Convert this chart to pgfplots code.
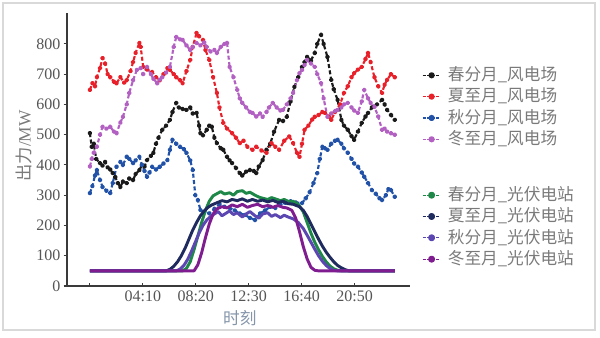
\documentclass[border=0pt]{standalone}
\usepackage{fontspec}
\usepackage{pgfplots}
\pgfplotsset{compat=1.18}
\setmainfont{Liberation Serif}
\newfontfamily\cjk{Noto Sans CJK SC}
\definecolor{wblack}{HTML}{1A1A1A}
\definecolor{wred}{HTML}{E8202A}
\definecolor{wblue}{HTML}{2152A8}
\definecolor{wpurple}{HTML}{B260C2}
\definecolor{pgreen}{HTML}{1E8848}
\definecolor{pnavy}{HTML}{1F2A5E}
\definecolor{pviolet}{HTML}{5B46B2}
\definecolor{pmag}{HTML}{7E1C90}
\definecolor{framegray}{HTML}{D9D9D9}
\definecolor{axisgray}{HTML}{3A3A3A}
\definecolor{tickgray}{HTML}{555555}
\definecolor{legendgray}{HTML}{7A7A7A}
\definecolor{xlabgray}{HTML}{8595AA}
\pgfplotsset{
  myaxis/.style={
    scale only axis, width=257.25pt, height=204.75pt,
    at={(50.25pt,38.25pt)}, anchor=south west,
    xmin=-1.8, xmax=25.2, ymin=0, ymax=902,
  },
  mylegend/.style={
    legend style={draw=none, fill=none, inner sep=0pt, outer sep=0pt,
      font=\cjk\fontsize{12.5}{14}\selectfont, text=legendgray,
      cells={anchor=west}, row sep=2pt, column sep=5pt,
      nodes={inner sep=0pt, text height=11pt, text depth=3pt},
      anchor=north west},
    legend image code/.code={
      \draw[##1, mark=none, line width=0.9pt, dash pattern=on 2.2pt off 1.2pt] (0pt,0pt) -- (13.5pt,0pt);
      \fill[##1, solid] (6.75pt,0pt) circle (1.5pt);
    },
  },
  wind/.style={line width=1.6pt, dash pattern=on 3pt off 1.8pt, line cap=butt, line join=round,
    mark=*, mark size=1.0pt, mark options={solid}},
  pv/.style={line width=2.2pt, line join=round},
}
\begin{document}
\begin{tikzpicture}[x=1pt,y=1pt]
\useasboundingbox (0,0) rectangle (450,252.75);
\draw[color=framegray, line width=0.8pt] (2.25,5.25) rectangle (446.25,250.5);
\begin{axis}[myaxis, mylegend,
  axis x line*=bottom, axis y line*=left,
  axis line style={-, line width=1.1pt, color=axisgray},
  xtick={0,4.16667,8.33333,12.5,16.66667,20.83333},
  xticklabels={,04:10,08:20,12:30,16:40,20:50},
  ytick={0,100,...,800},
  xtick align=inside, ytick align=outside,
  major tick length=2.5pt,
  tick style={color=axisgray, line width=0.8pt},
  tick label style={font=\fontsize{12}{12}\selectfont, color=tickgray, /pgf/number format/assume math mode=true},
  yticklabel style={xshift=1pt},
  xlabel={\cjk 时刻},
  xlabel style={at={(axis description cs:0.504,-0.117)}, anchor=center, font=\fontsize{12.5}{14}\selectfont, color=xlabgray},
  ylabel={{\cjk 出力}/MW},
  ylabel style={at={(axis description cs:-0.125,0.513)}, anchor=center, font=\fontsize{13}{14}\selectfont, color=legendgray},
  legend style={at={(axis description cs:1.035,0.806)}},
]
\addplot[wind, color=wblack] coordinates {
(0.0,505)(0.15,460)(0.3,470)(0.5,420)(0.8,406)(1.0,398)(1.2,410)(1.4,392)(1.6,385)(1.8,373)
(2.0,360)(2.2,340)(2.4,327)(2.6,345)(2.9,340)(3.1,355)(3.4,350)(3.6,370)(3.9,383)(4.1,400)
(4.3,395)(4.5,416)(4.8,430)(5.0,440)(5.2,470)(5.4,490)(5.7,516)(6.0,530)(6.3,549)(6.5,575)
(6.8,605)(7.0,590)(7.3,585)(7.6,582)(7.9,590)(8.1,570)(8.4,572)(8.6,530)(8.7,505)(8.9,498)
(9.2,516)(9.4,530)(9.6,526)(9.8,490)(10.0,472)(10.3,455)(10.5,450)(10.8,427)(11.0,415)(11.2,406)
(11.5,390)(11.8,373)(12.0,365)(12.3,378)(12.6,383)(12.9,380)(13.1,373)(13.3,395)(13.6,416)(13.9,450)
(14.2,470)(14.5,510)(14.9,549)(15.2,545)(15.5,559)(15.8,610)(16.1,658)(16.4,690)(16.7,724)(16.9,740)
(17.1,757)(17.4,745)(17.7,770)(17.9,800)(18.2,830)(18.4,800)(18.7,757)(19.0,681)(19.2,650)(19.5,615)
(19.8,549)(20.0,530)(20.3,516)(20.6,495)(20.8,483)(21.1,510)(21.4,539)(21.7,560)(21.9,572)(22.2,590)
(22.6,600)(23.0,615)(23.2,600)(23.4,582)(23.7,565)(24.0,549)};
\addlegendentry{春分月\_风电场}
\addplot[wind, color=wred] coordinates {
(0.0,648)(0.2,670)(0.4,660)(0.55,690)(0.8,720)(1.0,753)(1.2,735)(1.4,700)(1.6,690)(1.9,675)
(2.1,670)(2.4,690)(2.7,672)(2.9,680)(3.2,710)(3.4,740)(3.6,770)(3.9,803)(4.0,790)(4.2,724)
(4.5,715)(4.9,707)(5.2,690)(5.5,680)(5.8,700)(6.1,720)(6.3,714)(6.6,700)(6.8,690)(7.1,680)
(7.3,670)(7.6,710)(7.9,747)(8.1,790)(8.4,836)(8.6,825)(8.9,813)(9.1,780)(9.4,747)(9.7,690)
(10.0,638)(10.2,590)(10.5,539)(10.8,520)(11.2,505)(11.5,490)(11.8,472)(12.1,480)(12.4,460)(12.8,450)
(13.1,460)(13.5,448)(13.9,440)(14.3,472)(14.6,460)(14.9,450)(15.3,480)(15.7,494)(16.0,472)(16.3,440)
(16.5,427)(16.7,470)(16.9,516)(17.2,530)(17.5,550)(17.7,559)(18.0,565)(18.3,575)(18.5,572)(18.8,560)
(19.0,549)(19.3,575)(19.7,600)(20.0,638)(20.3,660)(20.6,690)(20.8,703)(21.1,715)(21.4,724)(21.7,750)
(21.9,770)(22.1,740)(22.4,690)(22.7,660)(23.0,638)(23.2,665)(23.4,681)(23.7,700)(24.0,690)};
\addlegendentry{夏至月\_风电场}
\addplot[wind, color=wblue] coordinates {
(0.0,307)(0.2,330)(0.4,365)(0.55,383)(0.8,350)(1.0,327)(1.3,315)(1.6,307)(1.8,340)(2.1,394)
(2.4,410)(2.6,400)(2.9,427)(3.1,420)(3.4,406)(3.6,415)(3.9,427)(4.1,400)(4.3,380)(4.5,361)
(4.7,375)(4.9,394)(5.2,385)(5.5,394)(5.8,405)(6.1,416)(6.3,450)(6.5,483)(6.8,470)(7.1,460)
(7.4,452)(7.6,440)(7.9,415)(8.1,383)(8.3,300)(8.5,284)(8.7,251)(9.0,245)(9.4,240)(9.8,255)
(10.2,270)(10.6,262)(11.0,258)(11.4,250)(11.8,240)(12.2,235)(12.6,225)(13.0,218)(13.4,240)(13.8,250)
(14.2,262)(14.6,258)(15.0,270)(15.4,275)(15.8,280)(16.2,276)(16.7,274)(17.0,290)(17.3,310)(17.6,340)
(17.9,373)(18.1,420)(18.3,460)(18.5,455)(18.7,450)(19.0,470)(19.3,480)(19.5,483)(19.8,470)(20.0,455)
(20.3,440)(20.6,420)(20.8,405)(21.1,394)(21.4,375)(21.6,361)(21.9,340)(22.2,317)(22.5,305)(22.8,290)
(23.0,284)(23.3,300)(23.5,320)(23.7,317)(24.0,295)};
\addlegendentry{秋分月\_风电场}
\addplot[wind, color=wpurple] coordinates {
(0.0,395)(0.15,420)(0.3,440)(0.55,460)(0.8,500)(1.0,526)(1.3,520)(1.6,526)(1.9,510)(2.1,505)
(2.4,540)(2.6,559)(2.9,600)(3.1,638)(3.4,680)(3.7,714)(4.0,720)(4.2,700)(4.5,724)(4.8,700)
(5.0,685)(5.3,670)(5.5,682)(5.7,690)(6.0,705)(6.3,724)(6.6,790)(6.8,823)(7.1,815)(7.3,813)
(7.6,795)(7.9,780)(8.1,790)(8.4,803)(8.7,795)(9.0,805)(9.2,790)(9.5,775)(9.8,780)(10.0,770)
(10.3,790)(10.6,800)(10.8,803)(11.0,724)(11.3,690)(11.6,648)(11.8,620)(12.0,605)(12.3,590)(12.6,575)
(12.8,572)(13.1,560)(13.4,570)(13.6,559)(13.9,575)(14.1,590)(14.4,605)(14.7,590)(15.0,580)(15.2,582)
(15.5,600)(15.8,620)(16.0,638)(16.3,680)(16.5,703)(16.7,714)(16.9,730)(17.1,747)(17.4,735)(17.7,724)
(17.9,700)(18.2,670)(18.4,620)(18.7,559)(19.0,570)(19.3,578)(19.5,582)(19.8,590)(20.0,600)(20.3,605)
(20.6,590)(20.8,580)(21.1,572)(21.4,610)(21.6,648)(21.9,620)(22.1,605)(22.4,592)(22.7,560)(23.0,516)
(23.2,520)(23.4,510)(23.7,505)(24.0,500)};
\addlegendentry{冬至月\_风电场}
\end{axis}
\begin{axis}[myaxis, mylegend, hide axis,
  legend style={at={(axis description cs:1.035,0.367)}},
]
\addplot[pv, color=pgreen] coordinates {
(0,50)(7.3,50)(7.6,58)(7.9,80)(8.2,120)(8.5,165)(8.8,210)(9.1,250)(9.4,280)(9.7,298)
(10.0,305)(10.3,312)(10.6,304)(11.0,308)(11.3,300)(11.6,312)(12.0,315)(12.3,306)(12.6,310)(13.0,300)
(13.3,294)(13.6,290)(14.0,286)(14.3,292)(14.6,288)(15.0,282)(15.3,286)(15.6,280)(16.0,280)(16.4,270)
(16.8,245)(17.1,210)(17.4,175)(17.7,145)(18.0,120)(18.3,98)(18.6,80)(18.9,66)(19.2,57)(19.5,52)
(19.8,50)(24,50)};
\addlegendentry{春分月\_光伏电站}
\addplot[pv, color=pnavy] coordinates {
(0,50)(6.0,50)(6.3,55)(6.6,65)(6.9,80)(7.2,100)(7.5,125)(7.8,155)(8.1,185)(8.4,210)
(8.7,232)(9.0,248)(9.3,260)(9.6,268)(10.0,275)(10.4,282)(10.8,278)(11.2,286)(11.6,282)(12.0,288)
(12.4,280)(12.8,286)(13.2,280)(13.6,284)(14.0,278)(14.4,283)(14.8,276)(15.2,280)(15.6,272)(16.0,270)
(16.5,262)(16.8,250)(17.1,230)(17.4,205)(17.7,180)(18.0,155)(18.3,132)(18.6,112)(18.9,95)(19.2,80)
(19.5,68)(19.8,60)(20.1,54)(20.4,50)(24,50)};
\addlegendentry{夏至月\_光伏电站}
\addplot[pv, color=pviolet] coordinates {
(0,50)(6.8,50)(7.1,56)(7.4,68)(7.7,88)(8.0,115)(8.3,145)(8.6,175)(8.9,200)(9.2,218)
(9.5,230)(9.8,238)(10.1,246)(10.4,232)(10.7,240)(11.0,248)(11.3,236)(11.6,242)(12.0,228)(12.3,238)
(12.6,246)(13.0,232)(13.3,224)(13.6,238)(14.0,242)(14.3,230)(14.6,236)(15.0,226)(15.3,234)(15.6,228)
(16.0,222)(16.4,210)(16.8,190)(17.1,168)(17.4,145)(17.7,122)(18.0,100)(18.3,82)(18.6,68)(18.9,58)
(19.2,52)(19.5,50)(24,50)};
\addlegendentry{秋分月\_光伏电站}
\addplot[pv, color=pmag] coordinates {
(0,50)(8.2,50)(8.5,70)(8.8,110)(9.1,160)(9.4,205)(9.7,238)(10.0,255)(10.4,262)(10.8,258)
(11.2,268)(11.6,262)(12.0,270)(12.4,260)(12.8,266)(13.2,270)(13.6,262)(14.0,266)(14.4,260)(14.8,266)
(15.2,260)(15.5,258)(15.9,250)(16.2,225)(16.5,180)(16.8,130)(17.1,90)(17.4,62)(17.7,52)(18.0,50)
(24,50)};
\addlegendentry{冬至月\_光伏电站}
\end{axis}
\end{tikzpicture}
\end{document}
